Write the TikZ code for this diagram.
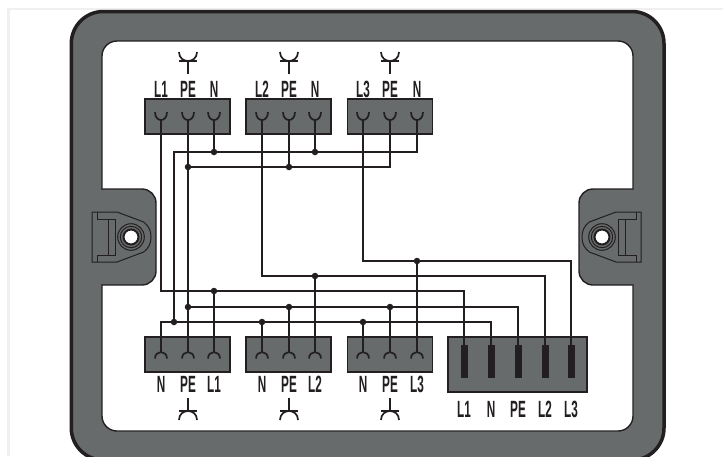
\documentclass[tikz,border=0pt]{standalone}
\usepackage{fontspec}
\setmainfont{Liberation Sans}
\definecolor{housing}{HTML}{676B6B}
\definecolor{ink}{HTML}{231F20}
\tikzset{
  wire/.style={draw=ink,line width=1.7pt},
  block/.style={draw=ink,fill=housing,line width=1.5pt,minimum height=35pt,inner sep=0pt},
  bar/.style={fill=ink,minimum width=7pt,minimum height=33pt,inner sep=0pt},
  jdot/.style={circle,fill=ink,minimum size=6.5pt,inner sep=0pt},
  lbl/.style={text=ink,font=\fontsize{23.5}{24}\selectfont\bfseries,xscale=.5,transform shape,inner sep=0pt}
}
\begin{document}
\begin{tikzpicture}[x=1pt,y=-1pt]
  \clip (0,0) rectangle (723,456);
  \fill [white] (0,0) rectangle (723,456);
  \draw [black!6,line width=2.5pt] (8.5,456) -- (8.5,9) -- (723,9);
  % housing
  \draw [fill=housing,draw=ink,line width=3.5pt,rounded corners=32pt]
    (71.3,11.5) rectangle (664,460);
  \draw [fill=white,draw=ink,line width=1.4pt,rounded corners=15pt]
    (102,41) rectangle (633,431);
  \draw [draw=ink,line width=1.4pt,fill=housing,rounded corners=14pt]
    (102,189) -- (156,189) -- (156,285) -- (102,285);
  \draw [draw=ink,line width=1.4pt,fill=housing,rounded corners=14pt]
    (633,189) -- (579,189) -- (579,285) -- (633,285);
  \fill [housing] (100,189.7) rectangle (104,284.3);
  \fill [housing] (631,189.7) rectangle (635,284.3);
  % screw lugs
  \foreach \x/\s in {131/1,602/-1} {
    \begin{scope}[shift={(\x,237)},xscale=\s,line width=1pt]
      \draw [ink] (-39,-25) -- (-14,-25) -- (12.7,-15) .. controls (18,-11) and (20,-6) .. (20,0)
        .. controls (20,6) and (18,11) .. (12.7,15) -- (-14,25) -- (-39,25) -- cycle;
      \draw [ink] (-34,-25) -- (-34,-18) -- (-16,-18) -- (-16,18) -- (-34,18) -- (-34,25);
      \draw [ink] (-23,-18) -- (-23,18);
      \draw [ink] (0,0) circle (10.7);
      \draw [ink] (0,0) circle (13.3);
      \draw [ink,fill=white,line width=2pt] (0,0) circle (7.5);
    \end{scope}
  }
  % terminals
  \foreach \x/\i in {187.5/ta,288.5/tb,390/tc}
    \node[block,minimum width=85pt] (\i) at (\x,116.5) {};
  \foreach \x/\i in {187.5/ba,288.5/bb,390/bc}
    \node[block,minimum width=85pt] (\i) at (\x,354.5) {};
  \node[block,minimum width=139pt,minimum height=55pt] (re) at (517.5,364.5) {};
  % sockets
  \foreach \x/\i in {161/tLa,188/tPa,214/tNa,262/tLb,289/tPb,315/tNb,363/tLc,390/tPc,417/tNc} {
    \coordinate (\i) at (\x,120);
    \draw[wire] (\x-6,112) .. controls (\x-6,122.7) and (\x+6,122.7) .. (\x+6,112);
  }
  \foreach \x/\i in {161/bNa,188/bPa,214/bLa,262/bNb,289/bPb,315/bLb,363/bNc,390/bPc,417/bLc} {
    \coordinate (\i) at (\x,352);
    \draw[wire] (\x-6,358.5) .. controls (\x-6,350) and (\x+6,350) .. (\x+6,358.5);
  }
  \foreach \x/\i in {464/rLa,491/rN,518/rP,545/rLb,571/rLc}
    \node[bar] (\i) at (\x,361.5) {};
  % plug symbols
  \foreach \x in {188,289,390} {
    \draw[wire] (\x-9,52) .. controls (\x-9,64) and (\x+9,64) .. (\x+9,52);
    \draw[wire] (\x-9,61) -- (\x+9,61);
    \draw[wire] (\x,61) -- (\x,74);
    \draw[wire] (\x-9,420) .. controls (\x-9,408) and (\x+9,408) .. (\x+9,420);
    \draw[wire] (\x-9,411) -- (\x+9,411);
    \draw[wire] (\x,411) -- (\x,398);
  }
  % junctions
  \foreach \x/\y/\i in {214/152/jtNa,315/152/jtNb,188/167/jtPa,289/167/jtPb,
    214/291/jbLa,315/276/jbLb,417/261/jbLc,188/307/jbPa,289/307/jbPb,390/307/jbPc,
    174/322/jbNa,262/322/jbNb,363/322/jbNc}
    \node[jdot] (\i) at (\x,\y) {};
  % wiring
  \draw[wire] (tNa) -- (jtNa);
  \draw[wire] (tNb) -- (jtNb);
  \draw[wire] (tNc) |- (jbNa |- jtNa) -- (jbNa);
  \draw[wire] (tPb) -- (jtPb);
  \draw[wire] (tPc) |- (jtPa.center);
  \draw[wire] (tPa) -- (bPa);
  \draw[wire] (tLa) |- (jbLa.center) -| (rLa);
  \draw[wire] (jbLa) -- (bLa);
  \draw[wire] (tLb) |- (jbLb.center) -| (rLb);
  \draw[wire] (jbLb) -- (bLb);
  \draw[wire] (tLc) |- (jbLc.center) -| (rLc);
  \draw[wire] (jbLc) -- (bLc);
  \draw[wire] (jbPa.center) -| (rP);
  \draw[wire] (jbPb) -- (bPb);
  \draw[wire] (jbPc) -- (bPc);
  \draw[wire] (bNa) |- (jbNc.center) -| (rN);
  \draw[wire] (jbNb) -- (bNb);
  \draw[wire] (jbNc) -- (bNc);
  % labels
  \foreach \x/\t/\i in {161/L1/la,188/PE/lb,214/N/lc,262/L2/ld,289/PE/le,315/N/lf,363/L3/lg,390/PE/lh,417/N/li}
    \node[lbl] (\i) at (\x,89.5) {\t};
  \foreach \x/\t/\i in {161/N/ma,188/PE/mb,214/L1/mc,262/N/md,289/PE/me,315/L2/mf,363/N/mg,390/PE/mh,417/L3/mi}
    \node[lbl] (\i) at (\x,384) {\t};
  \foreach \x/\t/\i in {464/L1/na,491/N/nb,518/PE/nc,545/L2/nd,571/L3/ne}
    \node[lbl] (\i) at (\x,409.5) {\t};
\end{tikzpicture}
\end{document}
